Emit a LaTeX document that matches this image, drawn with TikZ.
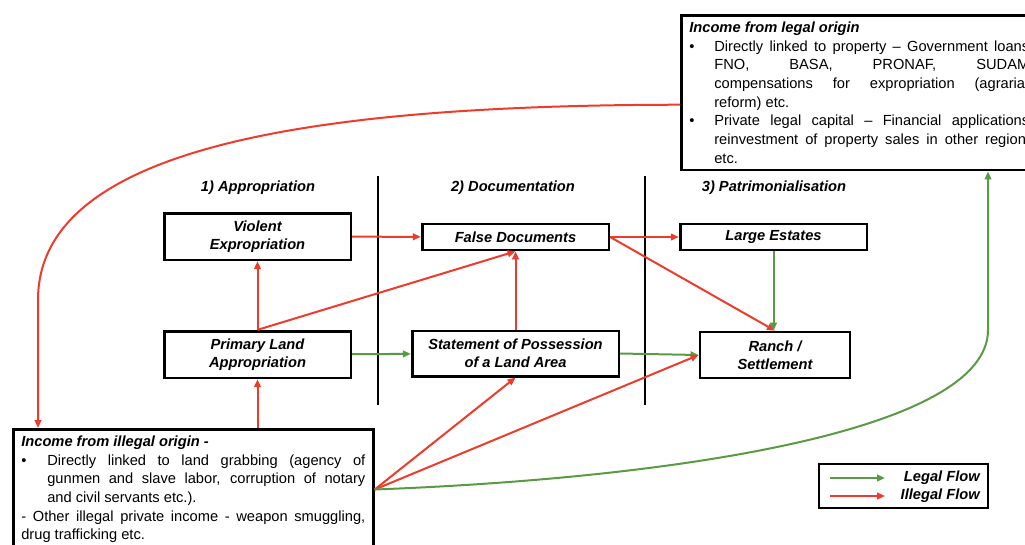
\documentclass[tikz,border=0pt]{standalone}
\usepackage{fontspec}
\setmainfont{Liberation Sans}
\usetikzlibrary{arrows.meta, calc}
\definecolor{flowred}{HTML}{EE3B2B}
\definecolor{flowgreen}{HTML}{5B9A44}
\hyphenpenalty=10000
\exhyphenpenalty=10000
\tolerance=9999
\hbadness=10000
\newcommand{\bulletitem}[2][18.75pt]{\par\noindent\hangindent=#1\hangafter=1\makebox[#1][l]{\textbullet}#2\par}

\begin{document}
\begin{tikzpicture}[x=0.75pt, y=-0.75pt,
  every node/.style={font=\fontsize{11}{13.5}\selectfont},
  stagebox/.style={draw, line width=2pt, inner sep=0pt, minimum width=140pt, minimum height=35pt, align=center, font=\fontsize{11}{13.5}\selectfont\bfseries\itshape},
  phase/.style={font=\fontsize{11}{13.5}\selectfont\bfseries\itshape},
  incomebox/.style={draw, fill=white, line width=2pt, inner xsep=6pt, inner ysep=5pt, text width=258pt, align=justify, font=\fontsize{11}{14}\selectfont},
  legendbox/.style={draw, line width=1.5pt, minimum width=126.75pt, minimum height=33pt},
  legendtext/.style={anchor=east, inner sep=0pt, font=\fontsize{11}{13.5}\selectfont\bfseries\itshape},
  legalflow/.style={-{Triangle[length=6pt,width=5pt]}, flowgreen, line width=1.5pt},
  illegalflow/.style={-{Triangle[length=6pt,width=5pt]}, flowred, line width=1.5pt},
  divider/.style={line width=1.8pt},
]
\useasboundingbox (0,0) rectangle (1025,544);
\clip (0,0) rectangle (1025,544);

\node[phase] (phaseA) at (258,188) {1) Appropriation};
\node[phase] (phaseB) at (513,188) {2) Documentation};
\node[phase] (phaseC) at (774,188) {3) Patrimonialisation};
\draw[divider] (378,176) -- (378,405);
\draw[divider] (645,176) -- (645,405);

\node[stagebox] (violent) at (257.5,236.5) {Violent\\Expropriation};
\node[stagebox, minimum height=19.5pt] (falsedoc) at (515.5,237) {False Documents};
\node[stagebox, minimum height=19.5pt] (estates) at (773.5,237) {Large Estates};
\node[stagebox] (primary) at (257.5,354.5) {Primary Land\\Appropriation};
\node[stagebox, minimum width=155pt, minimum height=34pt] (statement) at (515.5,353.5) {Statement of Possession\\of a Land Area};
\node[stagebox, minimum width=112.5pt, minimum height=34.5pt] (ranch) at (775,355) {Ranch /\\Settlement};

\node[incomebox, anchor=north west] (legal) at (680,14) {\noindent\textbf{\textit{Income from legal origin}}\par
\bulletitem{Directly linked to property -- Government loans,\linebreak FNO, BASA, PRONAF, SUDAM,\linebreak compensations for expropriation (agrarian\linebreak reform) etc.}
\bulletitem{Private legal capital -- Financial applications, reinvestment of property sales in other regions etc.}};

\node[incomebox, anchor=north west] (illegal) at (12,428) {\noindent\textbf{\textit{Income from illegal origin -}}\par
\bulletitem[19.5pt]{Directly linked to land grabbing (agency of gunmen and slave labor, corruption of notary\linebreak and civil servants etc.).}
\noindent- Other illegal private income - weapon smuggling, drug trafficking etc.\par};

\draw[illegalflow] (violent) -- (falsedoc);
\draw[illegalflow] (falsedoc) -- (estates);
\draw[illegalflow] (falsedoc.east) -- (ranch.north);
\draw[legalflow] (estates.south) -- (estates.south |- ranch.north);
\draw[illegalflow] (primary.north) -- (violent.south);
\draw[illegalflow] (primary.north) -- (falsedoc.south);
\draw[illegalflow] (statement.north) -- (falsedoc.south);
\draw[legalflow] (primary) -- (statement);
\draw[legalflow] (statement.east) -- (ranch.west);
\draw[illegalflow] (primary.south |- illegal.north) -- (primary.south);
\draw[illegalflow] (illegal.east) -- (statement.south);
\draw[illegalflow] (illegal.east) -- (ranch.west);
\draw[legalflow] (illegal.east) .. controls (680,478) and (988,430) .. (988,330) -- ($(legal.south west)+(308,0)$);
\draw[illegalflow] ([yshift=-9pt]legal.west) .. controls (300,105) and (38,150) .. (38,300) -- ($(illegal.north west)+(26,0)$);

\node[legendbox] (legend) at (903.5,486) {};
\node[legendtext] (legallbl) at (980,478) {Legal Flow};
\node[legendtext] (illegallbl) at (980,496) {Illegal Flow};
\coordinate (lgstart) at (830,478);
\coordinate (lgend) at (885,478);
\coordinate (ilstart) at (830,496);
\coordinate (ilend) at (885,496);
\draw[legalflow] (lgstart) -- (lgend);
\draw[illegalflow] (ilstart) -- (ilend);
\end{tikzpicture}
\end{document}
